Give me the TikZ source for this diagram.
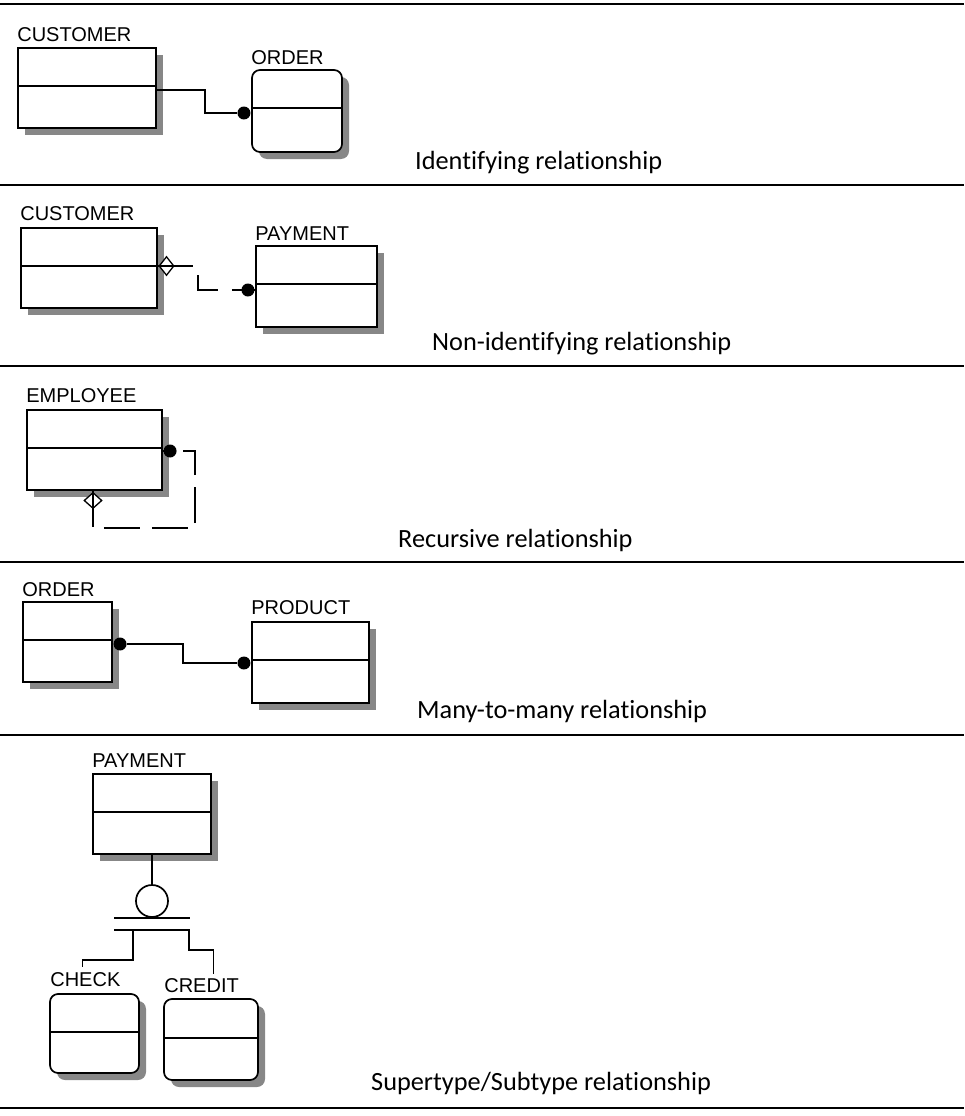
\documentclass[tikz,border=0pt]{standalone}
\usepackage{fontspec}
\setmainfont{Carlito}[Ligatures=NoCommon]
\newfontfamily\erfont{Liberation Sans}
\usepackage{tikz}
\usetikzlibrary{positioning,shapes.geometric,shadows}
\usepackage{xcolor}
\definecolor{shadegray}{RGB}{135,135,135}

\begin{document}
\begin{tikzpicture}[
    x=1pt, y=-1pt,
    entity/.style={draw, rectangle, fill=white, line width=1.7pt, inner sep=0pt, drop shadow={shadow xshift=7pt, shadow yshift=-7pt, opacity=1, fill=shadegray}},
    depentity/.style={entity, rounded corners=8pt},
    ename/.style={font=\erfont\fontsize{20}{22}\selectfont, inner sep=0pt, anchor=base west},
    reltitle/.style={font=\fontsize{26.3}{30}\selectfont, inner sep=0pt, anchor=base west},
    rel/.style={line width=1.7pt},
    nonid/.style={rel, dash pattern=on 35pt off 14pt},
    manydot/.style={circle, fill=black, minimum size=13pt, inner sep=0pt},
    optdia/.style={diamond, draw, fill=white, line width=1.3pt, inner sep=0pt, minimum width=15pt, minimum height=19pt},
    subcirc/.style={circle, draw, fill=white, line width=1.7pt, minimum size=32pt, inner sep=0pt},
    sepline/.style={line width=2.5pt}
]
    \useasboundingbox (0,0) rectangle (964,1116);

    \draw[sepline] (0,4) -- (964,4);
    \draw[sepline] (0,185) -- (964,185);
    \draw[sepline] (0,366) -- (964,366);
    \draw[sepline] (0,562) -- (964,562);
    \draw[sepline] (0,735) -- (964,735);
    \draw[line width=2pt] (0,1108) -- (964,1108);

    % identifying
    \node[entity, minimum width=138pt, minimum height=80pt] (cust1) at (87,88) {};
    \node[depentity, minimum width=90pt, minimum height=82pt] (order1) at (297,111) {};
    \draw[rel] ([yshift=2pt]cust1.west) -- ([yshift=2pt]cust1.east);
    \draw[rel] ([yshift=3pt]order1.west) -- ([yshift=3pt]order1.east);
    \node[ename, above=6pt of cust1.north west, anchor=base west] (cust1L) {CUSTOMER};
    \node[ename, above=5pt of order1.north west, anchor=base west] (order1L) {ORDER};
    \node[manydot, left=0.5pt of order1.west, yshift=-2pt] (dot1) {};
    \draw[rel] ([yshift=-2pt]cust1.east) -- ++(48,0) |- (dot1);
    \node[reltitle] (cap1) at (415,169) {Identifying relationship};

    % non-identifying
    \node[entity, minimum width=136pt, minimum height=80pt] (cust2) at (89,268) {};
    \node[entity, minimum width=121pt, minimum height=81pt] (pay2) at (316.5,286.5) {};
    \draw[rel] ([yshift=2pt]cust2.west) -- ([yshift=2pt]cust2.east);
    \draw[rel] ([yshift=2.5pt]pay2.west) -- ([yshift=2.5pt]pay2.east);
    \node[ename, above=7pt of cust2.north west, anchor=base west] (cust2L) {CUSTOMER};
    \node[ename, above=5pt of pay2.north west, anchor=base west] (pay2L) {PAYMENT};
    \node[optdia, right=0.5pt of cust2.east, yshift=2pt] (dia2) {};
    \node[manydot, left=0.5pt of pay2.west, yshift=-3.5pt] (dot2) {};
    \draw[nonid] ([yshift=2pt]cust2.east) -- ++(40,0) |- ([yshift=-3.5pt]pay2.west);
    \node[reltitle] (cap2) at (432,350) {Non-identifying relationship};

    % recursive
    \node[entity, minimum width=135pt, minimum height=80pt] (emp3) at (94.5,450) {};
    \draw[rel] ([yshift=2pt]emp3.west) -- ([yshift=2pt]emp3.east);
    \node[ename, above=7pt of emp3.north west, anchor=base west] (emp3L) {EMPLOYEE};
    \node[optdia, minimum width=18pt, minimum height=16pt, below=1pt of emp3.south, xshift=-1.5pt] (dia3) {};
    \node[manydot, right=0.5pt of emp3.east, yshift=-1pt] (dot3) {};
    \coordinate (turn3) at (195,528);
    \draw[nonid, dash pattern=on 36pt off 12pt] ([xshift=-1.5pt]emp3.south) |- (turn3) |- ([yshift=-1pt]emp3.east);
    \node[reltitle] (cap3) at (398,547) {Recursive relationship};

    % many-to-many
    \node[entity, minimum width=89pt, minimum height=80pt] (ord4) at (67.5,642) {};
    \node[entity, minimum width=117pt, minimum height=81pt] (prod4) at (310.5,662.5) {};
    \draw[rel] ([yshift=2pt]ord4.west) -- ([yshift=2pt]ord4.east);
    \draw[rel] ([yshift=2.5pt]prod4.west) -- ([yshift=2.5pt]prod4.east);
    \node[ename, above=5pt of ord4.north west, anchor=base west] (ord4L) {ORDER};
    \node[ename, above=7pt of prod4.north west, anchor=base west] (prod4L) {PRODUCT};
    \node[manydot, right=0.5pt of ord4.east, yshift=-2pt] (dot4a) {};
    \node[manydot, left=0.5pt of prod4.west, yshift=-0.5pt] (dot4b) {};
    \draw[rel] (dot4a) -- ++(63,0) |- (dot4b);
    \node[reltitle] (cap4) at (417,718) {Many-to-many relationship};

    % supertype / subtype
    \node[entity, minimum width=118pt, minimum height=80pt] (pay5) at (152,814) {};
    \draw[rel] ([yshift=2pt]pay5.west) -- ([yshift=2pt]pay5.east);
    \node[ename, above=6pt of pay5.north west, anchor=base west] (pay5L) {PAYMENT};
    \node[subcirc] (sub5) at (152,901) {};
    \draw[rel] (pay5.south) -- (sub5.north);
    \draw[rel] ([xshift=-38pt]sub5.south) -- ([xshift=38pt]sub5.south);
    \coordinate (bar5) at ([yshift=-12pt]sub5.south);
    \node[depentity, minimum width=89pt, minimum height=79pt] (check5) at (94.5,1033.5) {};
    \node[depentity, minimum width=94pt, minimum height=81pt] (credit5) at (211,1039.5) {};
    \draw[rel] ([yshift=1.5pt]check5.west) -- ([yshift=1.5pt]check5.east);
    \draw[rel] ([yshift=1.5pt]credit5.west) -- ([yshift=1.5pt]credit5.east);
    \node[ename, above=7pt of check5.north west, anchor=base west, xshift=1pt] (check5L) {CHECK};
    \node[ename, above=6pt of credit5.north west, anchor=base west, xshift=1pt] (credit5L) {CREDIT};
    \draw[rel] ([xshift=-38pt]bar5) -- ([xshift=37pt]bar5) -- ++(0,20) -| ([xshift=12pt,yshift=4pt]credit5L.north);
    \draw[rel] ([xshift=-19pt]bar5) -- ++(0,30) -| ([xshift=-3pt,yshift=5pt]check5L.north);
    \node[reltitle] (cap5) at (371,1090) {Supertype/Subtype relationship};
\end{tikzpicture}
\end{document}
